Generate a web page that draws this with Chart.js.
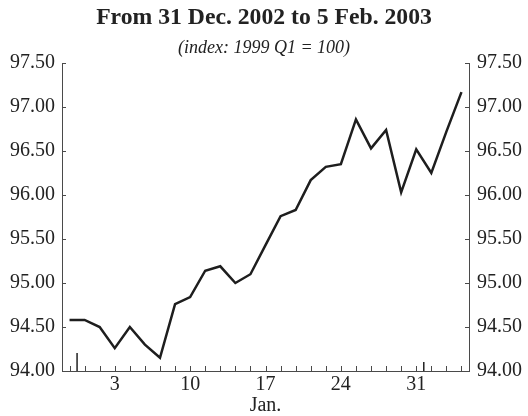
<!DOCTYPE html>
<html>
<head>
<meta charset="utf-8">
<script src="https://cdn.jsdelivr.net/npm/chart.js@4"></script>
<style>
  html, body { margin: 0; padding: 0; background: #fff; }
  #wrap { width: 528px; height: 416px; }
</style>
</head>
<body>
<div id="wrap"><canvas id="c" width="528" height="416"></canvas></div>
<script>
// ---- data ----
const dates = [
  '2002-12-31','2003-01-01','2003-01-02','2003-01-03',
  '2003-01-06','2003-01-07','2003-01-08','2003-01-09','2003-01-10',
  '2003-01-13','2003-01-14','2003-01-15','2003-01-16','2003-01-17',
  '2003-01-20','2003-01-21','2003-01-22','2003-01-23','2003-01-24',
  '2003-01-27','2003-01-28','2003-01-29','2003-01-30','2003-01-31',
  '2003-02-03','2003-02-04','2003-02-05'
];
const indexValues = [
  94.58, 94.58, 94.50, 94.26,
  94.50, 94.30, 94.15, 94.76, 94.84,
  95.14, 95.19, 95.00, 95.10, 95.43,
  95.76, 95.83, 96.17, 96.32, 96.35,
  96.86, 96.53, 96.74, 96.03, 96.52,
  96.25, 96.72, 97.17
];
const xTickLabels = [
  '', '', '', '3',
  '', '', '', '', '10',
  '', '', '', '', '17',
  '', '', '', '', '24',
  '', '', '', '', '31',
  '', '', ''
];
const yearBoundaryAfter = [0];   // boundary between 31 Dec and 1 Jan
const monthBoundaryAfter = [23]; // boundary between 31 Jan and 3 Feb
const yMin = 94.0, yMax = 97.5, yStep = 0.5;
const titleText = 'From 31 Dec. 2002 to 5 Feb. 2003';
const subtitleText = '(index: 1999 Q1 = 100)';
const xAxisTitle = 'Jan.';

// ---- rendering ----
const SERIF = "'Liberation Serif', 'Times New Roman', serif";
const AXIS_COLOR = '#4a4a4a';
const TEXT_COLOR = '#222';

const tickMarks = {
  id: 'tickMarks',
  beforeDatasetsDraw(chart) {
    const ctx = chart.ctx;
    const x = chart.scales.x, yl = chart.scales.y, yr = chart.scales.y2;
    const area = chart.chartArea;
    ctx.save();
    ctx.strokeStyle = AXIS_COLOR;
    ctx.lineWidth = 1;
    ctx.beginPath();
    yl.ticks.forEach(t => {
      const py = Math.round(yl.getPixelForValue(t.value)) + 0.5;
      ctx.moveTo(area.left, py); ctx.lineTo(area.left + 4, py);
    });
    yr.ticks.forEach(t => {
      const py = Math.round(yr.getPixelForValue(t.value)) + 0.5;
      ctx.moveTo(area.right, py); ctx.lineTo(area.right - 4, py);
    });
    for (let i = 0; i < dates.length; i++) {
      const px = Math.round(x.getPixelForValue(i)) + 0.5;
      ctx.moveTo(px, area.bottom); ctx.lineTo(px, area.bottom - 5);
    }
    ctx.stroke();
    ctx.lineWidth = 1.5;
    ctx.strokeStyle = '#222';
    ctx.beginPath();
    yearBoundaryAfter.forEach(i => {
      const px = (x.getPixelForValue(i) + x.getPixelForValue(i + 1)) / 2;
      ctx.moveTo(px, area.bottom); ctx.lineTo(px, area.bottom - 18);
    });
    monthBoundaryAfter.forEach(i => {
      const px = (x.getPixelForValue(i) + x.getPixelForValue(i + 1)) / 2;
      ctx.moveTo(px, area.bottom); ctx.lineTo(px, area.bottom - 9);
    });
    ctx.stroke();
    ctx.restore();
  }
};

const yTicks = {
  stepSize: yStep,
  color: TEXT_COLOR,
  font: { family: SERIF, size: 20 },
  callback: v => Number(v).toFixed(2)
};

new Chart(document.getElementById('c'), {
  type: 'line',
  data: {
    labels: dates,
    datasets: [{
      data: indexValues,
      borderColor: '#1e1e1e',
      borderWidth: 2.5,
      pointRadius: 0,
      tension: 0,
      fill: false,
      yAxisID: 'y'
    }]
  },
  options: {
    responsive: false,
    animation: false,
    devicePixelRatio: 1,
    layout: { padding: { left: 0, right: 0, top: 0, bottom: 0 } },
    plugins: {
      legend: { display: false },
      tooltip: { enabled: false },
      title: {
        display: true,
        text: titleText,
        color: TEXT_COLOR,
        font: { family: SERIF, size: 23.7, weight: 'bold', lineHeight: 1.2 },
        padding: { top: 4, bottom: 0 }
      },
      subtitle: {
        display: true,
        text: subtitleText,
        color: TEXT_COLOR,
        font: { family: SERIF, size: 18, style: 'italic', lineHeight: 1.2 },
        padding: { top: 5, bottom: 4 }
      }
    },
    scales: {
      x: {
        type: 'category',
        offset: true,
        grid: { display: false, drawTicks: false },
        border: { display: true, color: AXIS_COLOR, width: 1 },
        afterFit: s => { s.height = 45; },
        ticks: {
          autoSkip: false,
          maxRotation: 0,
          padding: 4,
          color: TEXT_COLOR,
          font: { family: SERIF, size: 20, lineHeight: 1 },
          callback: (v, i) => xTickLabels[i]
        },
        title: {
          display: true,
          text: xAxisTitle,
          color: TEXT_COLOR,
          font: { family: SERIF, size: 20, lineHeight: 1 },
          padding: { top: 2, bottom: 0 }
        }
      },
      y: {
        type: 'linear',
        position: 'left',
        min: yMin, max: yMax,
        grid: { display: false, drawTicks: false },
        border: { display: true, color: AXIS_COLOR, width: 1 },
        afterFit: s => { s.width = 62; },
        ticks: Object.assign({ padding: 7 }, yTicks)
      },
      y2: {
        type: 'linear',
        position: 'right',
        min: yMin, max: yMax,
        grid: { display: false, drawTicks: false },
        border: { display: true, color: AXIS_COLOR, width: 1 },
        afterFit: s => { s.width = 59; },
        ticks: Object.assign({ padding: 8 }, yTicks)
      }
    }
  },
  plugins: [tickMarks]
});
</script>
</body>
</html>
